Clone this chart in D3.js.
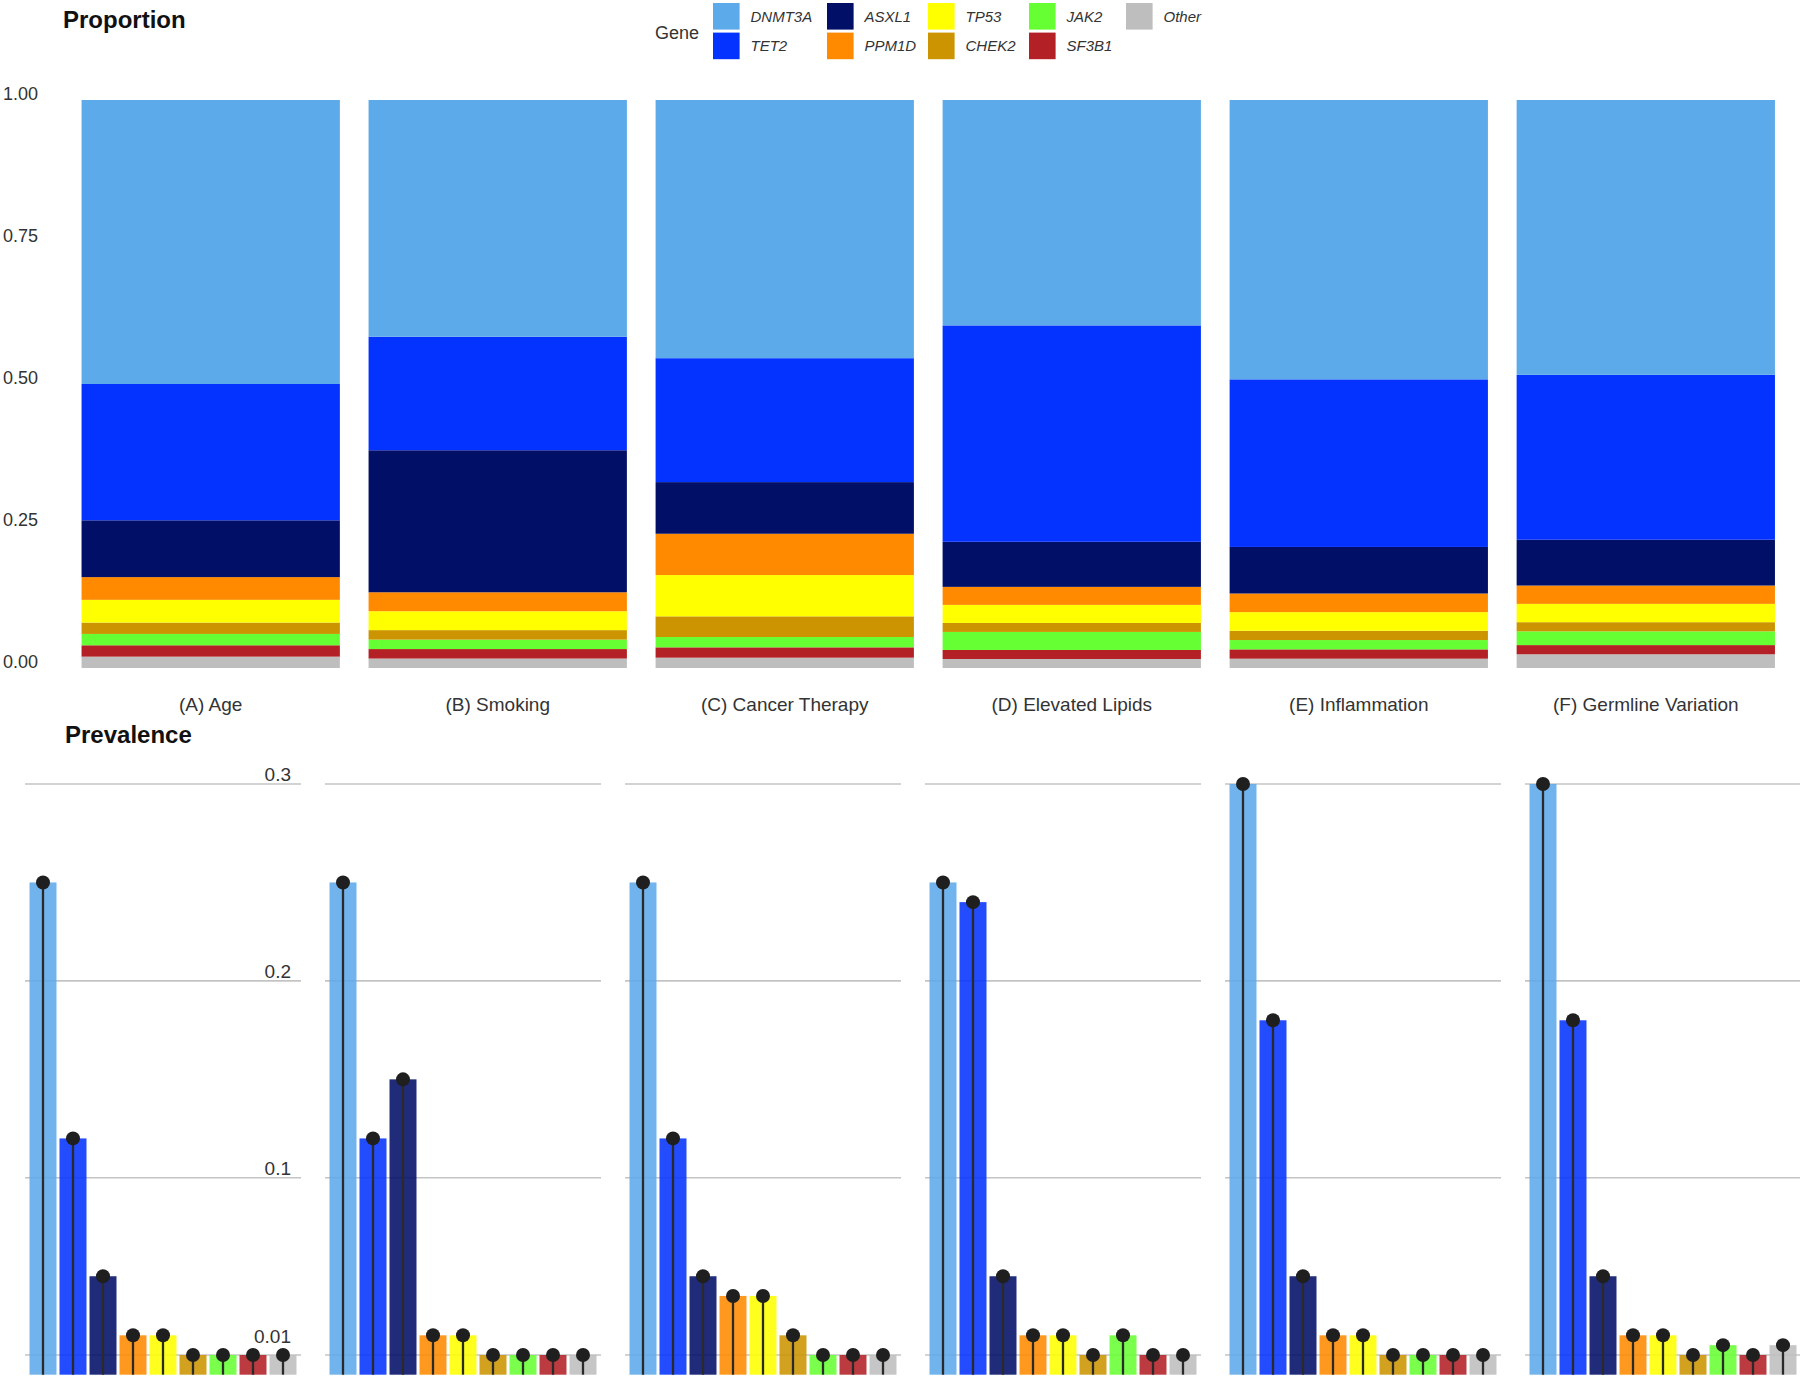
<!DOCTYPE html>
<html>
<head>
<meta charset="utf-8">
<script src="https://cdn.jsdelivr.net/npm/d3@7"></script>
<style>
  body { margin: 0; background: #fff; }
  svg { display: block; font-family: "Liberation Sans", Arial, sans-serif; }
</style>
</head>
<body>
<div id="canvas"></div>
<script>
// categories
const facets = ["(A) Age", "(B) Smoking", "(C) Cancer Therapy", "(D) Elevated Lipids", "(E) Inflammation", "(F) Germline Variation"];
const genes = ["DNMT3A", "TET2", "ASXL1", "PPM1D", "TP53", "CHEK2", "JAK2", "SF3B1", "Other"];
const geneColors = ["#5daaeb", "#0433ff", "#010f66", "#ff8a00", "#ffff00", "#cc9400", "#66ff33", "#b32025", "#bebebe"];

// prevalence per gene (same order as genes), one array per facet
const prevAge       = [0.25, 0.12, 0.05, 0.02, 0.02, 0.01, 0.01,  0.01, 0.01];
const prevSmoking   = [0.25, 0.12, 0.15, 0.02, 0.02, 0.01, 0.01,  0.01, 0.01];
const prevCancer    = [0.25, 0.12, 0.05, 0.04, 0.04, 0.02, 0.01,  0.01, 0.01];
const prevLipids    = [0.25, 0.24, 0.05, 0.02, 0.02, 0.01, 0.02,  0.01, 0.01];
const prevInflam    = [0.30, 0.18, 0.05, 0.02, 0.02, 0.01, 0.01,  0.01, 0.01];
const prevGermline  = [0.30, 0.18, 0.05, 0.02, 0.02, 0.01, 0.015, 0.01, 0.015];
const prevalence = [prevAge, prevSmoking, prevCancer, prevLipids, prevInflam, prevGermline];

// tick labels
const propTicks = [0, 0.25, 0.5, 0.75, 1];
const prevTicks = [0.01, 0.1, 0.2, 0.3];

const width = 1800, height = 1377;
const svg = d3.select("#canvas").append("svg")
  .attr("width", width).attr("height", height);

const txt = "#333";

// ---------- top: proportion (stacked, filled) ----------
const rows = facets.map((f, i) => {
  const r = { facet: f };
  genes.forEach((g, j) => r[g] = prevalence[i][j]);
  return r;
});

const stack = d3.stack()
  .keys(genes.slice().reverse())   // DNMT3A ends on top, Other at the bottom
  .offset(d3.stackOffsetExpand);
const series = stack(rows);

const xTop = d3.scaleBand()
  .domain(facets)
  .range([38.5, 1818])
  .paddingInner(0.1)
  .paddingOuter(0.15);

const yTop = d3.scaleLinear().domain([0, 1]).range([668, 100]);
const color = d3.scaleOrdinal().domain(genes).range(geneColors);

svg.append("g").selectAll("g")
  .data(series)
  .join("g")
    .attr("fill", d => color(d.key))
  .selectAll("rect")
  .data(d => d)
  .join("rect")
    .attr("x", d => xTop(d.data.facet))
    .attr("width", xTop.bandwidth())
    .attr("y", d => yTop(d[1]))
    .attr("height", d => yTop(d[0]) - yTop(d[1]));

svg.append("g").selectAll("text")
  .data(propTicks)
  .join("text")
    .attr("x", 38)
    .attr("y", d => yTop(d) - 6)
    .attr("dy", "0.35em")
    .attr("text-anchor", "end")
    .attr("font-size", 18)
    .attr("fill", txt)
    .text(d => d3.format(".2f")(d));

svg.append("g").selectAll("text")
  .data(facets)
  .join("text")
    .attr("x", d => xTop(d) + xTop.bandwidth() / 2)
    .attr("y", 711)
    .attr("text-anchor", "middle")
    .attr("font-size", 19)
    .attr("fill", txt)
    .text(d => d);

svg.append("text")
  .attr("x", 63).attr("y", 28)
  .attr("font-size", 24).attr("font-weight", "bold").attr("fill", "#111")
  .text("Proportion");

// legend
const legend = svg.append("g");
legend.append("text")
  .attr("x", 655).attr("y", 39)
  .attr("font-size", 18).attr("fill", txt)
  .text("Gene");

const legCols = [713, 827, 928, 1029, 1126];
const legItems = legend.selectAll("g")
  .data(genes)
  .join("g")
    .attr("transform", (d, i) => `translate(${legCols[Math.floor(i / 2)]}, ${3 + (i % 2) * 29.6})`);
legItems.append("rect")
  .attr("width", 26.6).attr("height", 26.6)
  .attr("fill", d => color(d));
legItems.append("text")
  .attr("x", 37.5).attr("y", 13.5).attr("dy", "0.35em")
  .attr("font-size", 15).attr("font-style", "italic").attr("fill", txt)
  .text(d => d);

// ---------- bottom: prevalence (one small panel per facet) ----------
svg.append("text")
  .attr("x", 65).attr("y", 743)
  .attr("font-size", 24).attr("font-weight", "bold").attr("fill", "#111")
  .text("Prevalence");

const yBot = d3.scaleLinear().domain([0, 0.3]).range([1374.7, 784]);
const panelStep = 300, panelW = 276, panelX0 = 25;

facets.forEach((f, i) => {
  const x0 = panelX0 + i * panelStep;
  const xb = d3.scaleBand()
    .domain(genes)
    .range([x0, x0 + panelW])
    .paddingInner(0.1)
    .paddingOuter(0.15);

  const g = svg.append("g");

  g.selectAll("line.grid")
    .data(prevTicks)
    .join("line")
      .attr("class", "grid")
      .attr("x1", x0).attr("x2", x0 + panelW)
      .attr("y1", d => yBot(d)).attr("y2", d => yBot(d))
      .attr("stroke", "#c4c4c4").attr("stroke-width", 1.6);

  if (i === 0) {
    g.selectAll("text.tick")
      .data(prevTicks)
      .join("text")
        .attr("class", "tick")
        .attr("x", x0 + 266)
        .attr("y", d => yBot(d) - (d === 0.01 ? 12 : 3))
        .attr("text-anchor", "end")
        .attr("font-size", 19)
        .attr("fill", txt)
        .text(d => d);
  }

  const vals = genes.map((gn, j) => ({ gene: gn, v: prevalence[i][j] }));

  g.selectAll("rect")
    .data(vals)
    .join("rect")
      .attr("x", d => xb(d.gene))
      .attr("width", xb.bandwidth())
      .attr("y", d => yBot(d.v))
      .attr("height", d => yBot(0) - yBot(d.v))
      .attr("fill", d => color(d.gene))
      .attr("fill-opacity", 0.88);

  g.selectAll("line.stem")
    .data(vals)
    .join("line")
      .attr("class", "stem")
      .attr("x1", d => xb(d.gene) + xb.bandwidth() / 2)
      .attr("x2", d => xb(d.gene) + xb.bandwidth() / 2)
      .attr("y1", yBot(0))
      .attr("y2", d => yBot(d.v))
      .attr("stroke", "#2a2a2a").attr("stroke-width", 2.3);

  g.selectAll("circle")
    .data(vals)
    .join("circle")
      .attr("cx", d => xb(d.gene) + xb.bandwidth() / 2)
      .attr("cy", d => yBot(d.v))
      .attr("r", 7)
      .attr("fill", "#1f1f1f");
});
</script>
</body>
</html>
